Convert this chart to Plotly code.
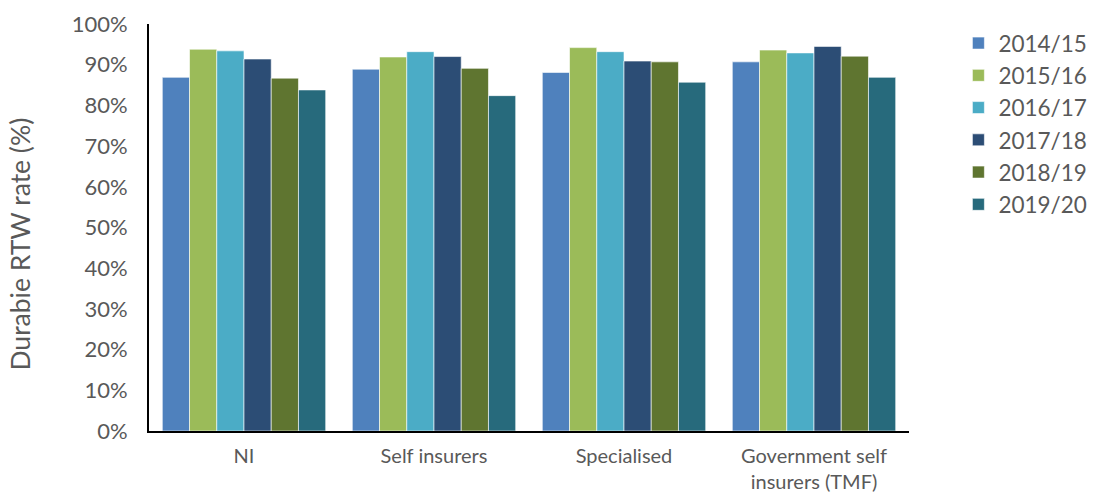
import plotly.graph_objects as go

categories = ["NI", "Self insurers", "Specialised", "Government self<br>insurers (TMF)"]
years = ["2014/15", "2015/16", "2016/17", "2017/18", "2018/19", "2019/20"]
colors = ["#4F81BD", "#9BBB59", "#4BACC6", "#2C4D75", "#5F7530", "#276A7C"]

rate_2014_15 = [0.869, 0.889, 0.881, 0.907]
rate_2015_16 = [0.938, 0.919, 0.942, 0.936]
rate_2016_17 = [0.934, 0.932, 0.932, 0.929]
rate_2017_18 = [0.914, 0.920, 0.909, 0.945]
rate_2018_19 = [0.867, 0.891, 0.907, 0.921]
rate_2019_20 = [0.838, 0.824, 0.857, 0.869]

series = [rate_2014_15, rate_2015_16, rate_2016_17, rate_2017_18, rate_2018_19, rate_2019_20]

font_family = "Lato, 'Open Sans', sans-serif"
grey = "#595959"

fig = go.Figure()
for i, (name, vals) in enumerate(zip(years, series)):
    fig.add_trace(go.Bar(
        x=categories, y=vals, name=name,
        marker=dict(color=colors[i], line=dict(color="white", width=0.6)),
    ))

# y-axis title placed as a rotated annotation, sitting a little below the axis midpoint
fig.add_annotation(
    text="Durabie RTW rate (%)", textangle=-90,
    xref="paper", yref="paper", x=-0.17, y=0.46,
    xanchor="center", yanchor="middle", showarrow=False,
    font=dict(size=26.5, color=grey, family=font_family),
)

fig.update_layout(
    width=1104, height=494,
    margin=dict(l=149, r=195, t=24, b=63),
    paper_bgcolor="white", plot_bgcolor="white",
    barmode="group", bargap=0.14, bargroupgap=0,
    font=dict(family=font_family, color=grey, size=21),
    legend=dict(
        x=1.065, xanchor="left", y=1.005, yanchor="top",
        font=dict(size=22.5, color=grey), tracegroupgap=0,
        itemwidth=30, bgcolor="rgba(0,0,0,0)",
    ),
    xaxis=dict(
        showline=True, linecolor="black", linewidth=2,
        ticks="outside", ticklen=6, tickcolor="white",
        tickfont=dict(size=20, color=grey), showgrid=False,
        automargin=False,
    ),
    yaxis=dict(
        range=[0, 1], tickformat=".0%", dtick=0.1,
        showline=True, linecolor="black", linewidth=2,
        showgrid=False, zeroline=False,
        tickfont=dict(size=22, color=grey),
        ticks="outside", ticklen=15, tickcolor="white",
        automargin=False,
    ),
)

fig.write_html("out.html")
